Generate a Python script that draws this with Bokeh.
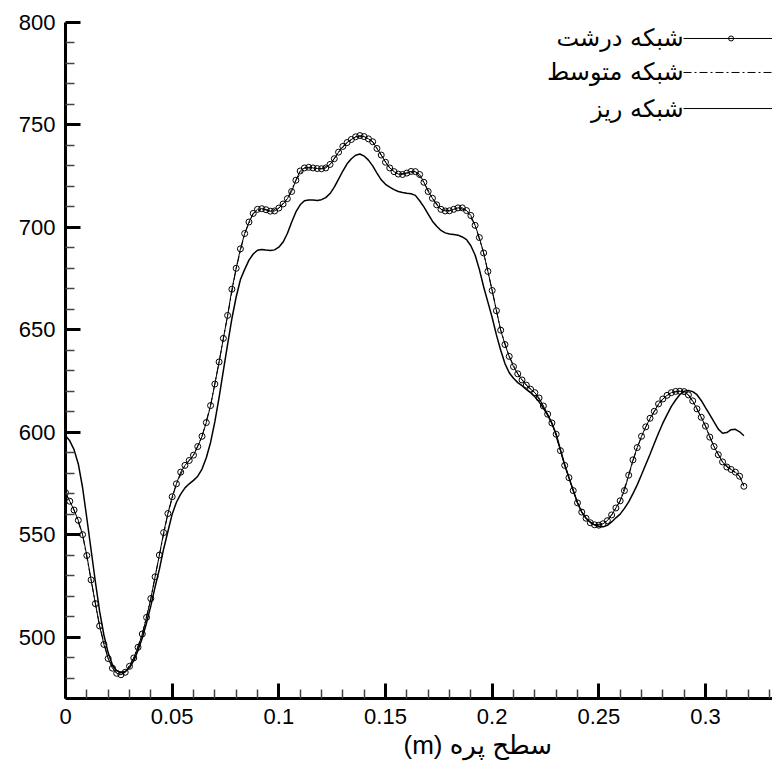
from bokeh.plotting import figure
from bokeh.models import Range1d, FixedTicker, PrintfTickFormatter, Title
from bokeh.embed import file_html
from bokeh.resources import INLINE
from bokeh.core.properties import value

# ---------------- data ----------------
grid_x = [
    0.000, 0.002, 0.004, 0.006, 0.008, 0.010, 0.012, 0.014, 0.016, 0.018,
    0.020, 0.022, 0.024, 0.026, 0.028, 0.030, 0.032, 0.034, 0.036, 0.038,
    0.040, 0.042, 0.044, 0.046, 0.048, 0.050, 0.052, 0.054, 0.056, 0.058,
    0.060, 0.062, 0.064, 0.066, 0.068, 0.070, 0.072, 0.074, 0.076, 0.078,
    0.080, 0.082, 0.084, 0.086, 0.088, 0.090, 0.092, 0.094, 0.096, 0.098,
    0.100, 0.102, 0.104, 0.106, 0.108, 0.110, 0.112, 0.114, 0.116, 0.118,
    0.120, 0.122, 0.124, 0.126, 0.128, 0.130, 0.132, 0.134, 0.136, 0.138,
    0.140, 0.142, 0.144, 0.146, 0.148, 0.150, 0.152, 0.154, 0.156, 0.158,
    0.160, 0.162, 0.164, 0.166, 0.168, 0.170, 0.172, 0.174, 0.176, 0.178,
    0.180, 0.182, 0.184, 0.186, 0.188, 0.190, 0.192, 0.194, 0.196, 0.198,
    0.200, 0.202, 0.204, 0.206, 0.208, 0.210, 0.212, 0.214, 0.216, 0.218,
    0.220, 0.222, 0.224, 0.226, 0.228, 0.230, 0.232, 0.234, 0.236, 0.238,
    0.240, 0.242, 0.244, 0.246, 0.248, 0.250, 0.252, 0.254, 0.256, 0.258,
    0.260, 0.262, 0.264, 0.266, 0.268, 0.270, 0.272, 0.274, 0.276, 0.278,
    0.280, 0.282, 0.284, 0.286, 0.288, 0.290, 0.292, 0.294, 0.296, 0.298,
    0.300, 0.302, 0.304, 0.306, 0.308, 0.310, 0.312, 0.314, 0.316, 0.318,
]

# coarse grid (circles)
coarse_y = [
    570.5, 566.3, 562.0, 557.0, 550.0, 539.8, 527.9, 516.3, 505.4, 496.4,
    489.5, 484.8, 482.3, 481.6, 482.8, 485.7, 489.8, 495.0, 501.5, 509.6,
    518.8, 529.4, 540.0, 551.0, 560.3, 568.5, 574.8, 580.5, 583.8, 586.2,
    588.8, 593.0, 598.0, 604.7, 613.0, 623.5, 634.3, 645.8, 657.0, 669.8,
    680.0, 689.5, 697.0, 702.6, 706.8, 708.8, 709.1, 708.6, 707.9, 708.0,
    709.4, 711.4, 714.0, 717.5, 723.0, 727.5, 729.0, 729.3, 729.0, 728.7,
    728.6, 729.0, 730.7, 733.5, 736.7, 739.5, 741.4, 742.9, 744.2, 744.8,
    744.3, 743.2, 741.8, 738.5, 735.3, 731.8, 729.0, 727.2, 726.0, 725.8,
    726.5, 727.3, 727.2, 725.8, 722.0, 717.5, 714.2, 711.0, 708.8, 708.0,
    708.1, 708.8, 709.5, 709.5, 708.2, 705.8, 701.0, 695.0, 687.5, 678.5,
    669.2, 659.3, 649.8, 642.8, 637.0, 632.0, 628.5, 625.5, 623.0, 621.0,
    619.3, 616.7, 612.8, 608.8, 604.5, 599.0, 591.0, 583.8, 577.8, 571.5,
    565.5, 561.0, 558.0, 555.8, 554.8, 554.6, 555.3, 556.8, 559.6, 563.0,
    566.5, 571.5, 579.0, 586.5, 592.5, 598.0, 602.6, 606.8, 610.2, 613.8,
    616.2, 618.0, 619.3, 619.9, 620.0, 619.8, 618.2, 615.3, 611.4, 607.3,
    603.0, 597.6, 593.0, 589.0, 585.5, 583.0, 581.8, 580.5, 578.5, 573.6,
]

# fine grid (solid)
fine_y = [
    598.3, 595.8, 591.5, 584.5, 573.0, 558.0, 542.5, 527.0, 512.5, 501.0,
    492.3, 486.5, 483.5, 482.7, 483.2, 485.0, 488.5, 493.5, 499.5, 507.0,
    515.2, 524.5, 533.0, 543.0, 551.5, 560.0, 565.8, 569.8, 572.8, 574.8,
    576.5, 578.5, 582.0, 587.5, 595.0, 605.0, 617.0, 630.0, 643.0, 655.5,
    666.0, 674.5, 679.5, 684.0, 687.0, 688.8, 689.2, 688.9, 688.7, 689.0,
    690.3, 692.8, 697.0, 702.5, 707.5, 711.0, 713.0, 713.4, 713.3, 713.1,
    713.5, 714.5, 716.5, 719.6, 723.5, 727.5, 731.0, 733.5, 735.2, 735.8,
    734.8, 732.8, 730.0, 726.5, 723.2, 721.0, 719.6, 718.4, 717.5, 717.0,
    716.6, 716.4, 715.6, 713.0, 710.0, 706.5, 703.0, 700.5, 698.5, 697.3,
    696.8, 696.5, 696.2, 695.3, 694.0, 691.0, 686.5, 679.5, 671.0, 663.5,
    656.0, 647.5, 640.0, 633.5, 629.0, 626.3, 624.2, 622.7, 620.9, 619.3,
    617.3, 614.8, 611.8, 608.3, 604.3, 599.0, 591.5, 584.0, 577.8, 571.5,
    565.5, 561.0, 558.0, 556.0, 554.8, 554.0, 553.8, 554.5, 556.2, 558.2,
    560.0, 562.8, 566.0, 570.0, 574.3, 579.2, 584.2, 589.2, 594.5, 599.6,
    604.4, 608.6, 612.6, 615.7, 618.4, 620.0, 620.4, 619.8, 618.3, 615.5,
    612.0, 608.6, 605.0, 601.5, 599.5, 599.8, 601.2, 601.4, 600.2, 598.3,
]

# medium grid (dash-dot)
medium_x = [
    0.000, 0.004, 0.008, 0.012, 0.016, 0.020, 0.024, 0.028, 0.032, 0.036,
    0.040, 0.044, 0.048, 0.052, 0.056, 0.060, 0.064, 0.068, 0.072, 0.076,
    0.080, 0.084, 0.088, 0.092, 0.096, 0.100, 0.104, 0.108, 0.112, 0.116,
    0.120, 0.124, 0.128, 0.132, 0.136, 0.140, 0.144, 0.148, 0.152, 0.156,
    0.160, 0.164, 0.168, 0.172, 0.176, 0.180, 0.184, 0.188, 0.192, 0.196,
    0.200, 0.204, 0.208, 0.212, 0.216, 0.220, 0.224, 0.228, 0.232, 0.236,
    0.240, 0.244, 0.248, 0.252, 0.256, 0.260, 0.264, 0.268, 0.272, 0.276,
    0.280, 0.284, 0.288, 0.292, 0.296, 0.300, 0.304, 0.308, 0.312, 0.316,
    0.318,
]
medium_y = [
    570.5, 562.0, 550.0, 527.9, 505.4, 489.5, 482.3, 482.8, 489.8, 501.5,
    518.8, 540.0, 560.3, 574.8, 583.8, 588.8, 598.0, 613.0, 634.3, 657.0,
    680.0, 697.0, 706.8, 709.1, 707.9, 709.4, 714.0, 723.0, 729.0, 729.0,
    728.6, 730.7, 736.7, 741.4, 744.2, 744.3, 741.8, 735.3, 729.0, 726.0,
    726.5, 727.2, 722.0, 714.2, 708.8, 708.1, 709.5, 708.2, 701.0, 687.5,
    669.2, 649.8, 637.0, 628.5, 623.0, 619.3, 612.8, 604.5, 591.0, 577.8,
    565.5, 558.0, 554.8, 555.3, 559.6, 566.5, 579.0, 592.5, 602.6, 610.2,
    616.2, 619.3, 620.0, 618.2, 611.4, 603.0, 593.0, 585.5, 581.8, 578.5,
    573.6,
]

series_labels = ["شبکه درشت", "شبکه متوسط", "شبکه ریز"]
x_axis_title = "(m) سطح پره"

x_major_ticks = [0, 0.05, 0.1, 0.15, 0.2, 0.25, 0.3]
x_tick_labels = ["0", "0.05", "0.1", "0.15", "0.2", "0.25", "0.3"]
x_minor_ticks = [0.01, 0.02, 0.03, 0.04, 0.06, 0.07, 0.08, 0.09, 0.11, 0.12,
                 0.13, 0.14, 0.16, 0.17, 0.18, 0.19, 0.21, 0.22, 0.23, 0.24,
                 0.26, 0.27, 0.28, 0.29, 0.31, 0.32, 0.33]
y_major_ticks = [500, 550, 600, 650, 700, 750, 800]
y_tick_labels = ["500", "550", "600", "650", "700", "750", "800"]
y_minor_ticks = [480, 490, 510, 520, 530, 540, 560, 570, 580, 590, 610, 620,
                 630, 640, 660, 670, 680, 690, 710, 720, 730, 740, 760, 770,
                 780, 790]

# ---------------- figure ----------------
W, H = 772, 764
LEFT, TOP, BOTTOM = 65, 22, 66
PX_PER_X = 2133.3
X0, X1 = 0.0, (W - LEFT) / PX_PER_X
Y0, Y1 = 470.0, 800.0

p = figure(width=W, height=H, output_backend="svg", toolbar_location=None,
           x_range=Range1d(X0, X1), y_range=Range1d(Y0, Y1),
           min_border_left=LEFT, min_border_right=0,
           min_border_top=TOP, min_border_bottom=BOTTOM)
p.outline_line_color = None
p.grid.visible = False
p.background_fill_color = "white"
p.border_fill_color = "white"

p.xaxis.ticker = FixedTicker(ticks=x_major_ticks, minor_ticks=x_minor_ticks)
p.yaxis.ticker = FixedTicker(ticks=y_major_ticks, minor_ticks=y_minor_ticks)
p.xaxis.formatter = PrintfTickFormatter(format="%g")
p.yaxis.formatter = PrintfTickFormatter(format="%g")
p.xaxis.major_label_overrides = dict(zip(x_major_ticks, x_tick_labels))
p.yaxis.major_label_overrides = dict(zip(y_major_ticks, y_tick_labels))

for ax in (p.xaxis, p.yaxis):
    ax.axis_line_width = 3
    ax.axis_line_color = "black"
    ax.major_tick_in = 15
    ax.major_tick_out = 0
    ax.minor_tick_in = 9
    ax.minor_tick_out = 0
    ax.major_tick_line_width = 3
    ax.major_tick_line_color = "black"
    ax.minor_tick_line_width = 1.5
    ax.minor_tick_line_color = "#444444"
    ax.major_label_text_font = "Liberation Sans"
    ax.major_label_text_font_size = "22px"
    ax.major_label_text_color = "black"
    ax.major_label_standoff = 10

# ---------------- series ----------------
p.line(grid_x, fine_y, line_color="black", line_width=1.5)
p.line(medium_x, medium_y, line_color="black", line_width=1, line_dash="8 3 2 3")
p.line(grid_x, coarse_y, line_color="black", line_width=1)
p.scatter(grid_x, coarse_y, marker="circle", size=6, fill_color=None,
          line_color="black", line_width=1)

# ---------------- legend (text left, glyph right) ----------------
leg_text_x = 0.2897
leg_ys = [792.2, 775.6, 758.0]
p.text(x=[leg_text_x] * 3, y=leg_ys, text=series_labels,
       text_align="right", text_baseline="middle",
       text_font=value("DejaVu Sans"), text_font_size="24px", text_color="black")
p.segment(x0=[leg_text_x], y0=[leg_ys[0]], x1=[X1], y1=[leg_ys[0]],
          line_color="black", line_width=1)
p.scatter(x=[0.312], y=[leg_ys[0]], marker="circle", size=5, fill_color=None,
          line_color="black", line_width=1)
p.segment(x0=[leg_text_x], y0=[leg_ys[1]], x1=[X1], y1=[leg_ys[1]],
          line_color="black", line_width=1, line_dash="8 3 2 3")
p.segment(x0=[leg_text_x], y0=[leg_ys[2]], x1=[X1], y1=[leg_ys[2]],
          line_color="black", line_width=1)

# ---------------- x-axis title ----------------
p.add_layout(Title(text=x_axis_title, align="left", offset=338, standoff=3,
                   text_font="Liberation Sans, DejaVu Sans", text_font_size="26px",
                   text_font_style="normal", text_color="black"), "below")

open("out.html", "w").write(file_html(p, INLINE))
